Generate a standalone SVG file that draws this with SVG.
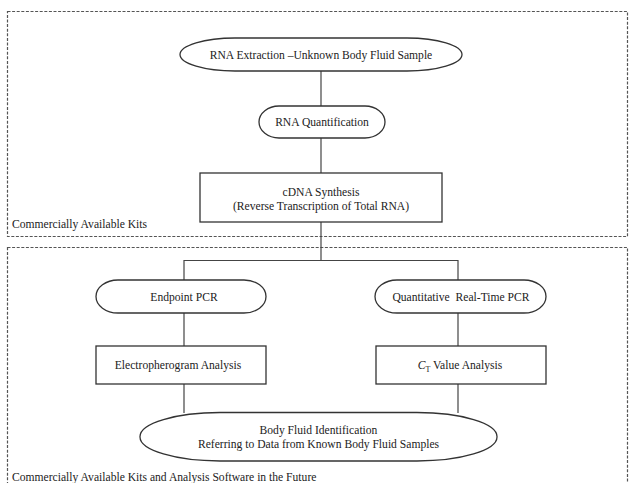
<svg xmlns="http://www.w3.org/2000/svg" width="629" height="483" viewBox="0 0 629 483">
<style>
  .bg{fill:#ffffff}
  .zone{fill:none;stroke:#555;stroke-width:1.2;stroke-dasharray:3 1.6}
  .shape{fill:#ffffff;stroke:#333;stroke-width:1.3}
  .conn{fill:none;stroke:#444;stroke-width:1.2}
  text{font-family:"Liberation Serif","Times New Roman",serif;font-size:11.6px;fill:#222;white-space:pre}
  .c{text-anchor:middle}
</style>
<rect class="bg" x="0" y="0" width="629" height="483"/>
<g id="zones">
  <rect class="zone" x="7.5" y="11.5" width="620" height="225"/>
  <rect class="zone" x="7.5" y="247.5" width="620" height="260"/>
  <text x="12" y="228">Commercially Available Kits</text>
  <text x="12" y="481">Commercially Available Kits and Analysis Software in the Future</text>
</g>
<g id="connectors">
  <line class="conn" x1="321" y1="71" x2="321" y2="106"/>
  <line class="conn" x1="321" y1="138" x2="321" y2="173"/>
  <polyline class="conn" points="321,222 321,260.5"/>
  <polyline class="conn" points="184,280 184,260.5 458,260.5 458,280"/>
  <line class="conn" x1="184" y1="313" x2="184" y2="346"/>
  <line class="conn" x1="458" y1="313" x2="458" y2="346"/>
  <line class="conn" x1="184" y1="384" x2="184" y2="413"/>
  <line class="conn" x1="458" y1="384" x2="458" y2="413"/>
</g>
<g id="n-extraction">
  <rect class="shape" x="180" y="38" width="282" height="33" rx="55" ry="16.5"/>
  <text class="c" x="321" y="58.5">RNA Extraction –Unknown Body Fluid Sample</text>
</g>
<g id="n-quant">
  <rect class="shape" x="259" y="106" width="126" height="32" rx="20" ry="16"/>
  <text class="c" x="322" y="126">RNA Quantification</text>
</g>
<g id="n-cdna">
  <rect class="shape" x="200" y="173" width="242" height="49"/>
  <text class="c" x="321" y="196">cDNA Synthesis</text>
  <text class="c" x="321" y="210">(Reverse Transcription of Total RNA)</text>
</g>
<g id="n-endpoint">
  <rect class="shape" x="96" y="280" width="170" height="33" rx="22" ry="16.5"/>
  <text class="c" x="184" y="300.5">Endpoint PCR</text>
</g>
<g id="n-qpcr">
  <rect class="shape" x="375" y="280" width="171" height="33" rx="22" ry="16.5"/>
  <text class="c" x="461" y="300.5">Quantitative  Real-Time PCR</text>
</g>
<g id="n-electro">
  <rect class="shape" x="96" y="346" width="170" height="38"/>
  <text class="c" x="178" y="369">Electropherogram Analysis</text>
</g>
<g id="n-ct">
  <rect class="shape" x="376" y="346" width="170" height="38"/>
  <text class="c" x="460" y="369"><tspan font-style="italic">C</tspan><tspan font-size="8" dy="2.5">T</tspan><tspan dy="-2.5"> Value Analysis</tspan></text>
</g>
<g id="n-bodyfluid">
  <rect class="shape" x="140" y="412.5" width="357" height="48.5" rx="80" ry="24"/>
  <text class="c" x="318.5" y="434">Body Fluid Identification</text>
  <text class="c" x="318.5" y="447.5">Referring to Data from Known Body Fluid Samples</text>
</g>
</svg>
